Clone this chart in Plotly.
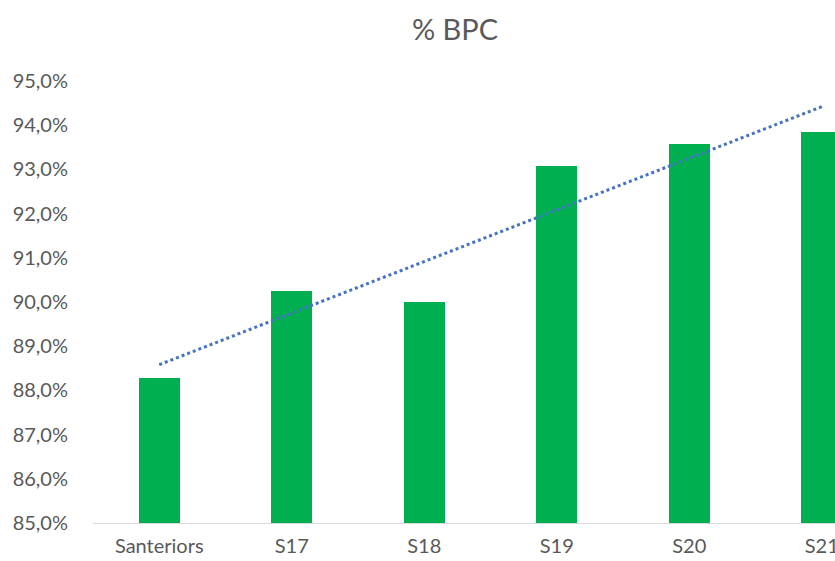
import numpy as np
import plotly.graph_objects as go

categories = ["Santeriors", "S17", "S18", "S19", "S20", "S21"]
values = [88.27, 90.26, 89.99, 93.07, 93.57, 93.84]
y_ticks = [85, 86, 87, 88, 89, 90, 91, 92, 93, 94, 95]
y_tick_labels = [f"{v},0%" for v in y_ticks]

x_idx = np.arange(len(categories))
slope, intercept = np.polyfit(x_idx, values, 1)
trend = slope * x_idx + intercept

FONT = "Lato"
GREY = "#595959"
BASE = 85

fig = go.Figure()
fig.add_trace(go.Bar(x=x_idx, y=[v - BASE for v in values], base=BASE,
                     marker=dict(color="#00B050", line=dict(width=0)),
                     width=0.31, showlegend=False))
fig.add_trace(go.Scatter(x=x_idx, y=trend, mode="lines",
                         line=dict(color="#4472C4", width=3, dash="dot"), showlegend=False))

fig.update_layout(
    width=835, height=561,
    margin=dict(l=93, r=0, t=81, b=38, autoexpand=False),
    paper_bgcolor="white", plot_bgcolor="white",
    title=dict(text="% BPC", x=455/835, xanchor="center", y=1 - 30/561, yanchor="middle",
               font=dict(family=FONT, size=29, color=GREY)),
    xaxis=dict(range=[-0.5, 5.1], tickmode="array", tickvals=list(x_idx), ticktext=categories,
               showgrid=False, zeroline=False, showline=True, linecolor="#D9D9D9", linewidth=1,
               ticks="", tickfont=dict(family=FONT, size=20, color=GREY), ticklabelstandoff=5,
               ticklabeloverflow="allow", automargin=False),
    yaxis=dict(range=[85, 95], tickmode="array", tickvals=y_ticks, ticktext=y_tick_labels,
               showgrid=False, zeroline=False, showline=False, ticks="", automargin=False,
               tickfont=dict(family=FONT, size=20, color=GREY), ticklabelstandoff=24),
    bargap=0,
)
fig.write_html("out.html")
